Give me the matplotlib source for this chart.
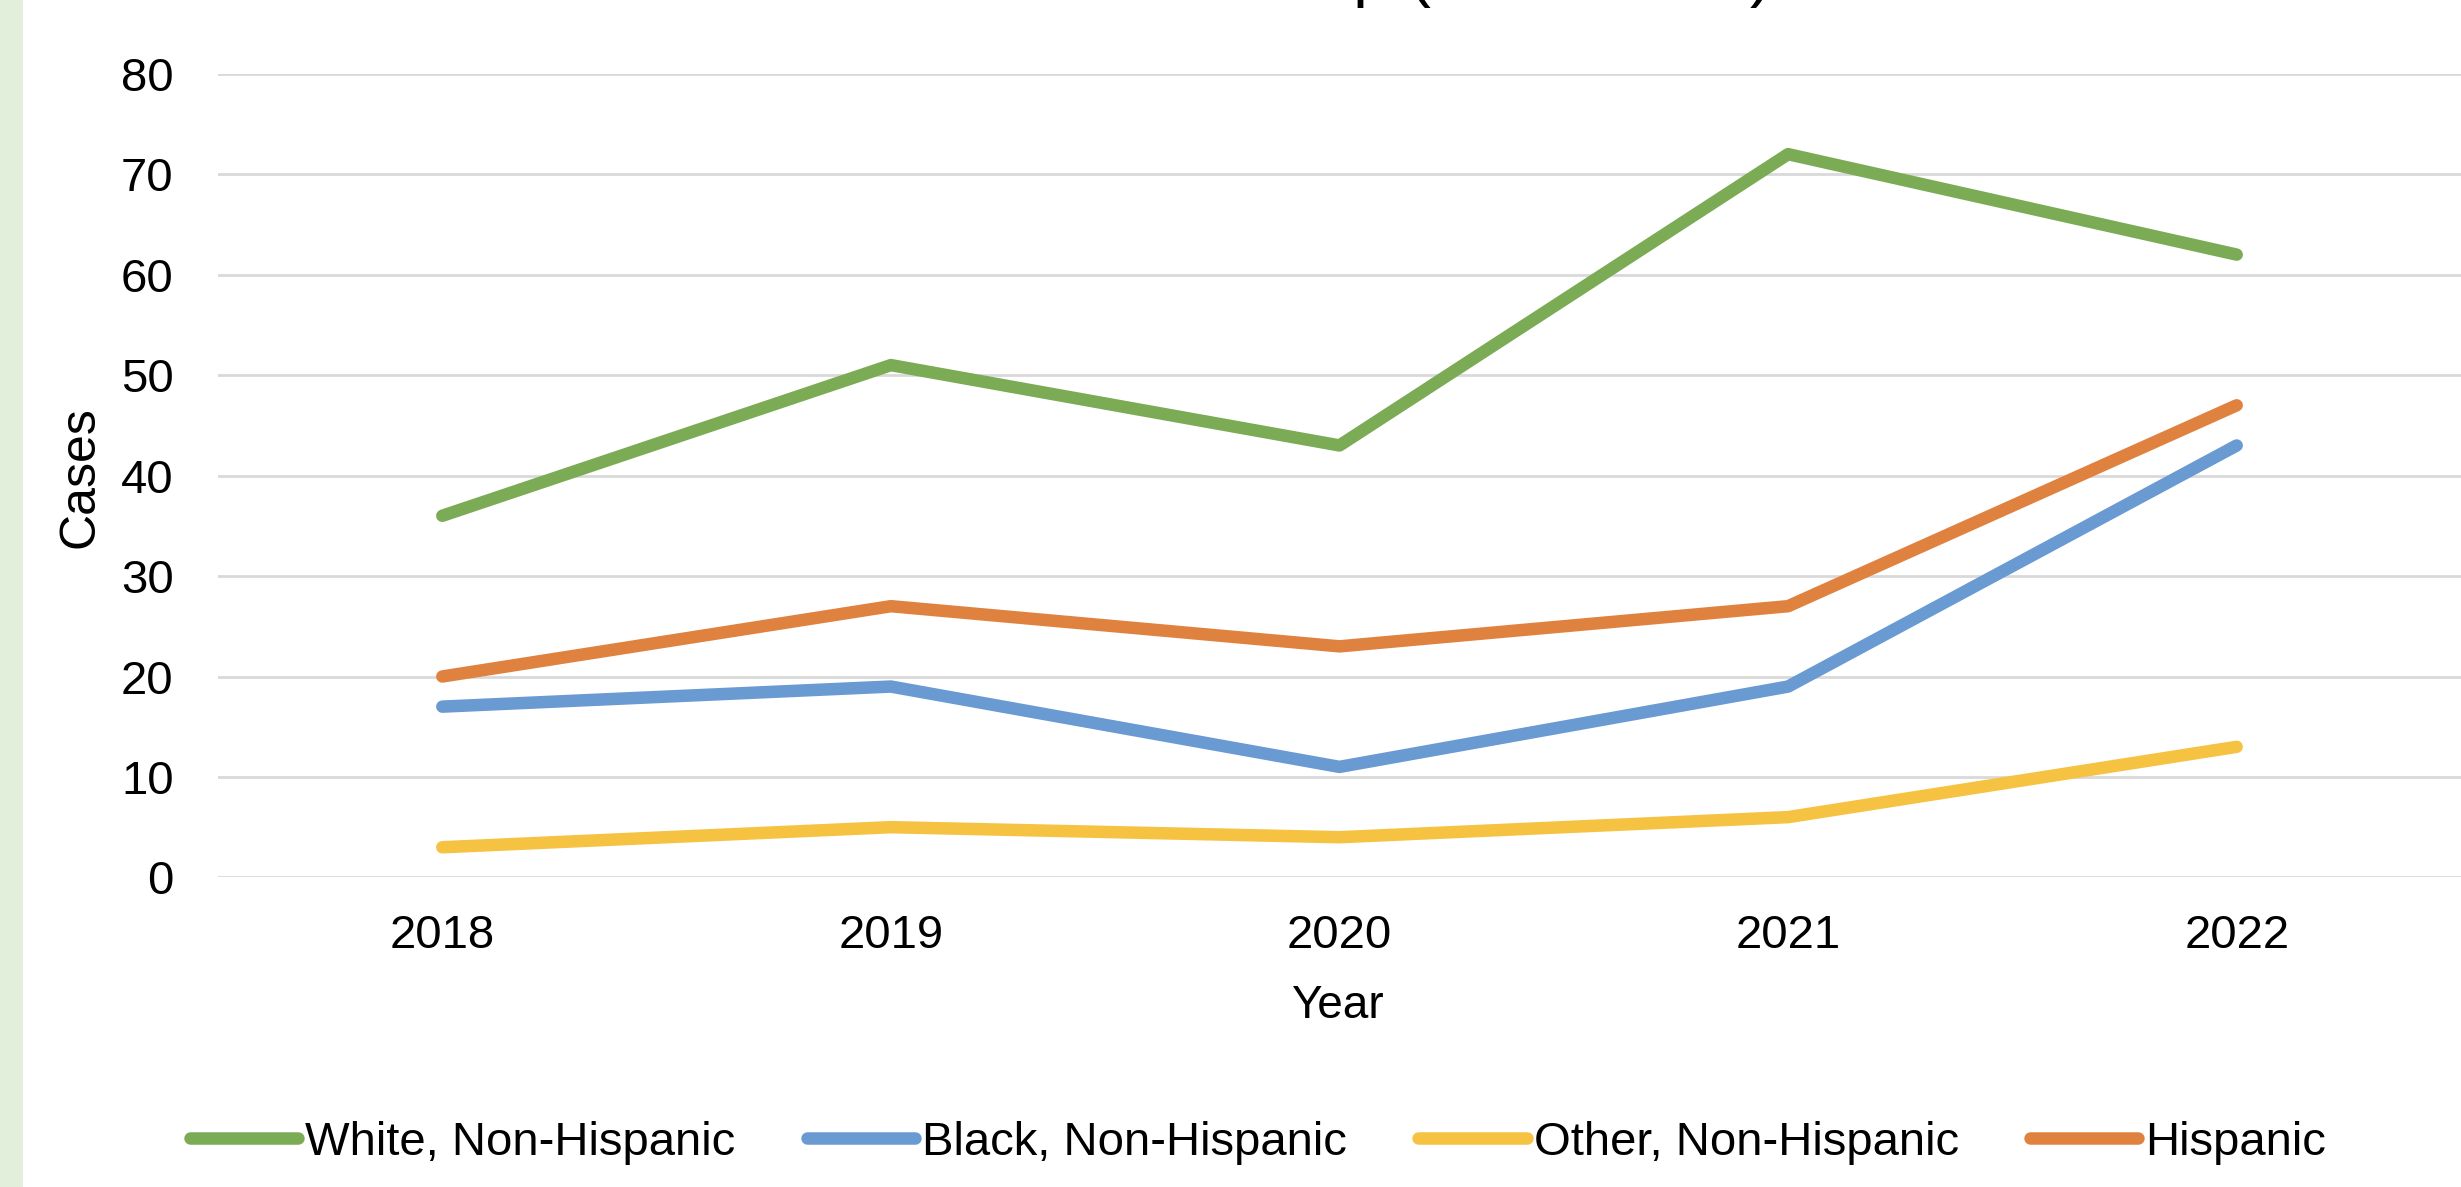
import matplotlib

matplotlib.use("Agg")
import matplotlib.pyplot as plt
from matplotlib.patches import Rectangle

years = ["2018", "2019", "2020", "2021", "2022"]
white_nh = [36, 51, 43, 72, 62]
black_nh = [17, 19, 11, 19, 43]
other_nh = [3, 5, 4, 6, 13]
hispanic = [20, 27, 23, 27, 47]
y_ticks = [0, 10, 20, 30, 40, 50, 60, 70, 80]

series = [
    ("White, Non-Hispanic", white_nh, "#7bab55"),
    ("Black, Non-Hispanic", black_nh, "#6a9ad2"),
    ("Other, Non-Hispanic", other_nh, "#f5c242"),
    ("Hispanic", hispanic, "#e0823f"),
]

plt.rcParams["font.family"] = ["Liberation Sans", "DejaVu Sans"]

W, H = 2461, 1187
fig = plt.figure(figsize=(W / 100, H / 100), dpi=100)
fig.patch.set_facecolor("white")

# franja verde a la izquierda
fig.patches.append(Rectangle((0, 0), 23 / W, 1, transform=fig.transFigure,
                             facecolor="#e2efda", edgecolor="none", zorder=0))

ax = fig.add_axes([218 / W, 1 - 877.4 / H, (W - 218) / W, (877.4 - 73.8) / H])
x = list(range(len(years)))
for name, vals, col in series:
    ax.plot(x, vals, color=col, lw=9, label=name, solid_capstyle="round",
            solid_joinstyle="round", zorder=3)

ax.set_xlim(-0.5, len(years) - 0.5)
ax.set_ylim(0, 80)
ax.set_yticks(y_ticks)
ax.set_xticks(x)
ax.set_xticklabels(years)
ax.grid(axis="y", color="#d9d9d9", lw=2)
ax.set_axisbelow(True)
for s in ax.spines.values():
    s.set_visible(False)
ax.tick_params(axis="y", length=0, pad=32, labelsize=34)
ax.tick_params(axis="x", length=0, pad=26, labelsize=34)

fig.text(80 / W, 1 - 477 / H, "Cases", rotation=90, ha="center", va="center",
         fontsize=36)
fig.text(1337 / W, 1 - 1006 / H, "Year", ha="center", va="center", fontsize=33)

# título cortado arriba (solo asoman los trazos inferiores)
fig.text(1772 / W, 1 + 6 / H, "Ethnic Group (2018-2022)", ha="right",
         va="baseline", fontsize=48)

handles, labels = ax.get_legend_handles_labels()
fig.legend(handles, labels, loc="center", ncol=4,
           bbox_to_anchor=(1258 / W, 1 - 1143 / H), frameon=False,
           fontsize=34, handlelength=2.3, handletextpad=0.15,
           columnspacing=1.5)

fig.savefig("out.png", dpi=100)
